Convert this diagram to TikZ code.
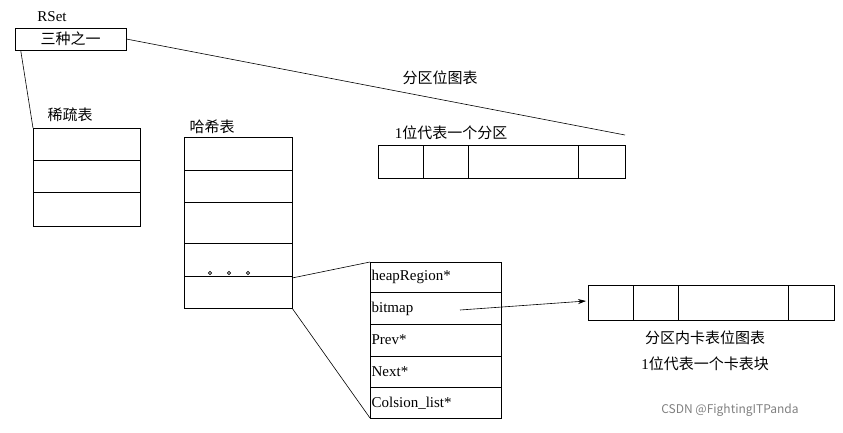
\documentclass[tikz,border=0pt]{standalone}
\usepackage{fontspec}
\setmainfont{Liberation Serif}
\newfontfamily\cjk{Noto Sans CJK SC}
\usetikzlibrary{arrows.meta}
\begin{document}
\begin{tikzpicture}[x=1pt,y=-1pt,line width=0.6pt,
  lbl/.style={font=\fontsize{15}{17}\selectfont},
  fld/.style={anchor=west,font=\fontsize{15}{17}\selectfont}]
\useasboundingbox (0,0) rectangle (843,432);
\node[lbl] (rset) at (52,17) {RSet};
\node[draw,minimum width=111pt,minimum height=22pt,inner sep=0pt,lbl] (three) at (70.5,39) {\cjk 三种之一};
% sparse table
\draw (33,128) rectangle (140,226);
\draw (33,160) -- (140,160) (33,192) -- (140,192);
\node[lbl] (sp) at (70,115) {\cjk 稀疏表};
\coordinate (spc) at (33,128);
\draw (three.south west) ++(6,0) coordinate (b1) -- (spc);
% partition bitmap
\node[lbl] (pb) at (440,78) {\cjk 分区位图表};
\node[lbl] (pb1) at (451,133) {1\cjk 位代表一个分区};
\draw (378,145) rectangle (625,178);
\draw (423,145) -- (423,178) (468,145) -- (468,178) (578,145) -- (578,178);
\coordinate (pbc) at (625,135);
\draw (three.east) -- (pbc);
% hash
\node[lbl] (ht) at (212,127) {\cjk 哈希表};
\draw (184,137) rectangle (292,308);
\foreach \y in {170,202,243,276} \draw (184,\y) -- (292,\y);
\foreach \x in {210,229,248} \draw (\x,273) circle (1.6pt);
% struct
\draw (370,262) rectangle (501,418);
\foreach \y in {292,324,356,387} \draw (370,\y) -- (501,\y);
\node[fld] (f1) at (368,277) {heapRegion*};
\node[fld] (f2) at (368,309) {bitmap};
\node[fld] (f3) at (368,340) {Prev*};
\node[fld] (f4) at (368,372) {Next*};
\node[fld] (f5) at (368,403) {Colsion\_list*};
\coordinate (h1) at (292,278); \coordinate (s1) at (370,262);
\coordinate (h2) at (292,308); \coordinate (s2) at (370,418);
\draw (h1) -- (s1) (h2) -- (s2);
% card bitmap
\draw (588,285) rectangle (834,320);
\draw (633,285) -- (633,320) (678,285) -- (678,320) (788,285) -- (788,320);
\coordinate (a1) at (460,310); \coordinate (a2) at (586,301);
\draw[-{Stealth[length=8pt,width=5pt]}] (a1) -- (a2);
\node[lbl] (cb) at (705,338) {\cjk 分区内卡表位图表};
\node[lbl] (cb1) at (705,364) {1\cjk 位代表一个卡表块};
\node[font=\sffamily\fontsize{12}{14}\selectfont,text=gray] (wm) at (730,410) {\cjk CSDN @FightingITPanda};
\end{tikzpicture}
\end{document}
